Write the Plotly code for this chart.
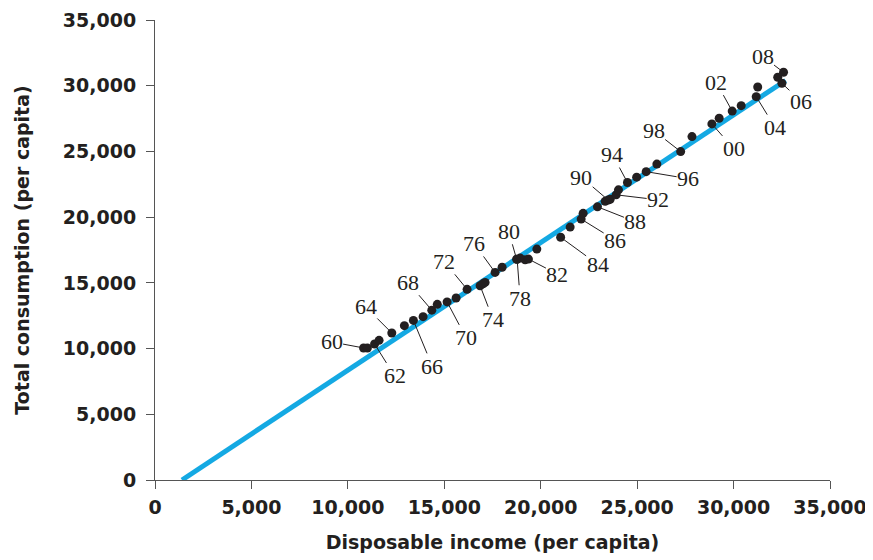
import plotly.graph_objects as go

# ---- data ----
years = list(range(1960, 2009))
income = [10815, 11012, 11386, 11619, 12278, 12931, 13398, 13901, 14353, 14638,
          15146, 15613, 16183, 17117, 16858, 17013, 17636, 17999, 18777, 18933,
          18751, 19192, 19363, 19799, 21033, 21526, 22097, 22200, 22942, 23342,
          23497, 23601, 23912, 24032, 24498, 24975, 25468, 26023, 27257, 27844,
          28876, 29254, 29929, 30396, 31174, 31252, 32507, 32289, 32590]
consumption = [10047, 10047, 10351, 10625, 11187, 11742, 12145, 12426, 12920, 13368,
               13551, 13847, 14508, 15033, 14782, 14934, 15793, 16188, 16796, 16887,
               16796, 16758, 16811, 17571, 18468, 19243, 19851, 20292, 20786, 21204,
               21303, 21356, 21698, 22078, 22633, 23043, 23461, 24039, 24989, 26129,
               27094, 27527, 28067, 28485, 29169, 29906, 30187, 30643, 31023]
fit_x = [1400, 32700]
fit_y = [0, 30400]

labeled_years = [1960, 1962, 1964, 1966, 1968, 1970, 1972, 1974, 1976, 1978, 1980,
                 1982, 1984, 1986, 1988, 1990, 1992, 1994, 1996, 1998, 2000, 2002,
                 2004, 2006, 2008]
x_ticks = [0, 5000, 10000, 15000, 20000, 25000, 30000, 35000]
y_ticks = [0, 5000, 10000, 15000, 20000, 25000, 30000, 35000]

# label offsets in pixels (style, not data)
label_offsets = {
    1960: (-32, -6), 1962: (20, 32), 1964: (-26, -26), 1966: (19, 46),
    1968: (-24, -28), 1970: (19, 36), 1972: (-23, -28), 1974: (13, 34),
    1976: (-21, -29), 1978: (3, 39), 1980: (-8, -28), 1982: (29, 15),
    1984: (37, 27), 1986: (34, 21), 1988: (38, 15), 1990: (-27, -23),
    1992: (42, 5), 1994: (-15, -28), 1996: (42, 7), 1998: (-27, -21),
    2000: (22, 25), 2002: (-16, -29), 2004: (19, 31), 2006: (19, 18),
    2008: (-21, -16),
}

BLUE = "#14A9E3"
DARK = "#231F20"
AXIS = "#555555"

fig = go.Figure()
fig.add_trace(go.Scatter(x=fit_x, y=fit_y, mode="lines",
                         line=dict(color=BLUE, width=5), hoverinfo="skip"))
fig.add_trace(go.Scatter(x=income, y=consumption, mode="markers",
                         marker=dict(color=DARK, size=9), text=[str(y) for y in years]))

annotations = []
for yr in labeled_years:
    i = years.index(yr)
    ax, ay = label_offsets[yr]
    annotations.append(dict(
        x=income[i], y=consumption[i], xref="x", yref="y",
        text=str(yr)[2:], showarrow=True, arrowhead=0, arrowwidth=1,
        arrowcolor=DARK, ax=ax, ay=ay, standoff=0, borderpad=0,
        font=dict(family="Liberation Serif", size=22, color=DARK)))

tickfont = dict(family="DejaVu Sans", size=19, color=DARK, weight="bold")
titlefont = dict(family="DejaVu Sans", size=19, color=DARK, weight="bold")

fig.update_layout(
    width=873, height=560,
    margin=dict(l=147, r=51, t=12, b=88),
    paper_bgcolor="white", plot_bgcolor="white",
    showlegend=False,
    annotations=annotations,
    xaxis=dict(range=[0, 35000], tickvals=x_ticks,
               ticktext=[f"{v:,}" for v in x_ticks], automargin=False,
               showgrid=False, zeroline=False, showline=True,
               linecolor=AXIS, linewidth=1, ticks="outside", ticklen=8,
               tickcolor=AXIS, tickwidth=1, tickfont=tickfont,
               ticklabelstandoff=2,
               title=dict(text="Disposable income (per capita)", font=titlefont,
                          standoff=18)),
    yaxis=dict(range=[0, 35000], tickvals=y_ticks,
               ticktext=[f"{v:,}" for v in y_ticks], automargin=False,
               showgrid=False, zeroline=False, showline=True,
               linecolor=AXIS, linewidth=1, ticks="outside", ticklen=8,
               tickcolor=AXIS, tickwidth=1, tickfont=tickfont,
               ticklabelstandoff=6,
               title=dict(text="Total consumption (per capita)", font=titlefont,
                          standoff=28)),
)

fig.write_html("out.html")
